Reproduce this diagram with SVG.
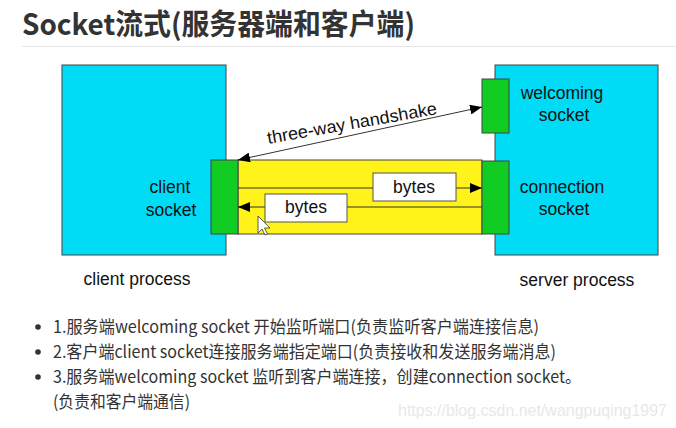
<svg xmlns="http://www.w3.org/2000/svg" width="676" height="428" viewBox="0 0 676 428">
<defs>
<style>
.lbl{font-family:"Liberation Sans",Arial,sans-serif;font-size:17.5px;fill:#111;text-anchor:middle}
.box{fill:#00DCF5;stroke:#444;stroke-width:1}
.grn{fill:#11CC22;stroke:#444;stroke-width:1}
.ln{stroke:#333;stroke-width:1;fill:none}
.bul{font-family:"Noto Sans CJK SC","Noto Sans",sans-serif;font-size:17px;fill:#333}
</style>
<marker id="ah" viewBox="0 0 12 10" refX="12" refY="5" markerWidth="12" markerHeight="10" markerUnits="userSpaceOnUse" orient="auto-start-reverse">
<path d="M0,0 L12,5 L0,10 Z" fill="#000"/>
</marker>
</defs>
<rect width="676" height="428" fill="#fff"/>
<text x="22" y="35" font-family="'Noto Sans CJK SC','Noto Sans',sans-serif" font-size="29" font-weight="bold" fill="#333" textLength="393" lengthAdjust="spacingAndGlyphs">Socket流式(服务器端和客户端)</text>
<line x1="22" y1="46.5" x2="676" y2="46.5" stroke="#e6e6e6" stroke-width="1"/>

<g id="client-process">
<rect class="box" x="62" y="65" width="164" height="190"/>
<text class="lbl" x="137" y="285">client process</text>
</g>
<g id="server-process">
<rect class="box" x="495" y="65" width="163" height="190"/>
<text class="lbl" x="577" y="286">server process</text>
</g>
<g id="channel">
<rect x="238" y="160" width="244" height="74" fill="#FFF31A" stroke="#444" stroke-width="1"/>
</g>
<g id="client-socket">
<rect class="grn" x="211" y="160" width="27" height="74"/>
<text class="lbl" x="170" y="193">client</text>
<text class="lbl" x="171" y="216">socket</text>
</g>
<g id="welcoming-socket">
<rect class="grn" x="482" y="79" width="27" height="54"/>
<text class="lbl" x="562" y="99">welcoming</text>
<text class="lbl" x="564" y="121">socket</text>
</g>
<g id="connection-socket">
<rect class="grn" x="482" y="161" width="27" height="73"/>
<text class="lbl" x="562" y="193">connection</text>
<text class="lbl" x="564" y="215">socket</text>
</g>

<g id="connectors">
<line class="ln" x1="238" y1="160" x2="482" y2="107" marker-start="url(#ah)" marker-end="url(#ah)"/>
<text class="lbl" transform="translate(353,129) rotate(-10)" x="0" y="0" textLength="172" lengthAdjust="spacingAndGlyphs">three-way handshake</text>
<line class="ln" x1="238" y1="188" x2="482" y2="188" marker-end="url(#ah)"/>
<line class="ln" x1="482" y1="207" x2="238" y2="207" marker-end="url(#ah)"/>
</g>
<g id="bytes-out">
<rect x="373" y="173" width="83" height="28" fill="#fff" stroke="#555"/>
<text class="lbl" x="414" y="193">bytes</text>
</g>
<g id="bytes-in">
<rect x="265" y="194" width="82" height="28" fill="#fff" stroke="#555"/>
<text class="lbl" x="306" y="213">bytes</text>
</g>
<path d="M258,216 L258,233 L262,229 L265,235 L267.5,234 L264.5,228 L270,228 Z" fill="#fff" stroke="#333" stroke-width="0.8"/>

<g id="notes">
<circle cx="38" cy="327" r="2.8" fill="#333"/>
<circle cx="38" cy="352" r="2.8" fill="#333"/>
<circle cx="38" cy="377" r="2.8" fill="#333"/>
<text class="bul" x="53" y="333" textLength="486" lengthAdjust="spacingAndGlyphs">1.服务端welcoming socket 开始监听端口(负责监听客户端连接信息)</text>
<text class="bul" x="53" y="358" textLength="503" lengthAdjust="spacingAndGlyphs">2.客户端client socket连接服务端指定端口(负责接收和发送服务端消息)</text>
<text class="bul" x="53" y="383" textLength="528" lengthAdjust="spacingAndGlyphs">3.服务端welcoming socket 监听到客户端连接，创建connection socket。</text>
<text class="bul" x="53" y="408" textLength="137" lengthAdjust="spacingAndGlyphs">(负责和客户端通信)</text>
</g>
<text x="398" y="416" font-family="'Liberation Sans',Arial,sans-serif" font-size="16" fill="#e8e8e8" textLength="269" lengthAdjust="spacingAndGlyphs">https://blog.csdn.net/wangpuqing1997</text>
</svg>
